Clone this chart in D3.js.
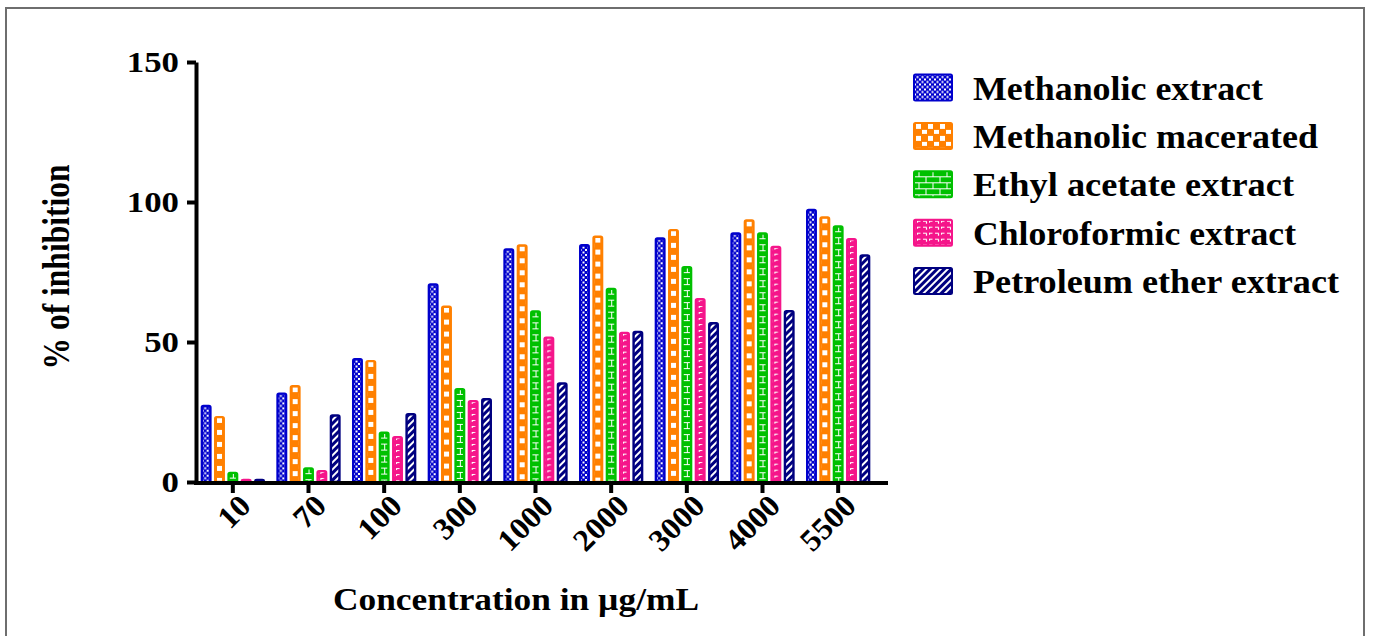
<!DOCTYPE html>
<html>
<head>
<meta charset="utf-8">
<script src="https://cdn.jsdelivr.net/npm/d3@7"></script>
<style>
    body { margin: 0; background: #fff; }
    #chart { width: 1373px; height: 636px; }
    text { font-family: "Liberation Serif", "Times New Roman", serif; font-weight: bold; fill: #000; }
</style>
</head>
<body>
<div id="chart"></div>
<script>
//Datos
const concentraciones = ['10', '70', '100', '300', '1000', '2000', '3000', '4000', '5500'];
const series = ['Methanolic extract', 'Methanolic macerated', 'Ethyl acetate extract', 'Chloroformic extract', 'Petroleum ether extract'];
const methanolicExtract = [27.6, 32.0, 44.3, 71.0, 83.5, 85.0, 87.4, 89.2, 97.6];
const methanolicMacerated = [23.6, 34.6, 43.6, 63.0, 84.9, 88.0, 90.4, 93.8, 94.9];
const ethylAcetate = [3.7, 5.3, 18.0, 33.6, 61.3, 69.4, 77.1, 89.2, 91.7];
const chloroformic = [1.2, 4.3, 16.4, 29.3, 52.0, 53.7, 65.7, 84.4, 87.1];
const petroleumEther = [1.2, 24.2, 24.6, 30.0, 35.6, 54.0, 57.1, 61.4, 81.3];
const yTicks = [0, 50, 100, 150];

//Colores fijos
const COLOR_BLUE = '#0000CC',
COLOR_ORANGE = '#FF8000',
COLOR_GREEN = '#00C000',
COLOR_PINK = '#F5158A',
COLOR_NAVY = '#000080';

let valores = [methanolicExtract, methanolicMacerated, ethylAcetate, chloroformic, petroleumEther];
let data = concentraciones.map(function(c, i) {
    let row = {conc: c};
    series.forEach(function(s, j) { row[s] = valores[j][i]; });
    return row;
});

let svg = d3.select('#chart')
    .append('svg')
    .attr('width', 1373)
    .attr('height', 636);

//Marco gris
svg.append('rect')
    .attr('x', 6).attr('y', 8)
    .attr('width', 1358).attr('height', 640)
    .attr('fill', 'none')
    .attr('stroke', '#6e6e6e')
    .attr('stroke-width', 2);

///Patrones
let defs = svg.append('defs');

function pattern(id, w, h, bg) {
    let p = defs.append('pattern')
        .attr('id', id)
        .attr('patternUnits', 'userSpaceOnUse')
        .attr('width', w).attr('height', h);
    p.append('rect').attr('width', w).attr('height', h).attr('fill', bg);
    return p;
}

//checker fino
let p0 = pattern('p0', 5, 5, COLOR_BLUE).attr('x', 1);
p0.append('rect').attr('x', 0).attr('y', 0).attr('width', 2).attr('height', 2).attr('fill', '#fff');
p0.append('rect').attr('x', 2.5).attr('y', 2.5).attr('width', 2).attr('height', 2).attr('fill', '#fff');

//checker grande
let p1 = pattern('p1', 12, 12, COLOR_ORANGE).attr('x', 3);
p1.append('rect').attr('x', 0).attr('y', 2).attr('width', 5).attr('height', 5).attr('fill', '#fff');
p1.append('rect').attr('x', 6).attr('y', 8).attr('width', 5).attr('height', 5).attr('fill', '#fff');

//ladrillos
let p2 = pattern('p2', 14, 12, COLOR_GREEN).attr('x', 5.5);
p2.append('path')
    .attr('d', 'M0,0.5H14M0,6.5H14M0.5,0.5V6.5M7.5,6.5V12')
    .attr('stroke', '#fff').attr('stroke-width', 1).attr('fill', 'none');

//guiones
let p3 = pattern('p3', 12, 6, COLOR_PINK).attr('x', 4);
p3.append('path')
    .attr('d', 'M0,2.5H3.5M6,2.5H9.5M9.5,2.5V5M0.5,2.5V4')
    .attr('stroke', '#fff').attr('stroke-width', 1.2).attr('fill', 'none');

//diagonales
let p4 = pattern('p4', 5, 5, COLOR_NAVY).attr('patternTransform', 'rotate(45)');
p4.append('rect').attr('x', 0).attr('y', 0).attr('width', 2).attr('height', 5).attr('fill', '#fff');

let colores = [COLOR_BLUE, COLOR_ORANGE, COLOR_GREEN, COLOR_PINK, COLOR_NAVY];
let fills = ['url(#p0)', 'url(#p1)', 'url(#p2)', 'url(#p3)', 'url(#p4)'];

let color = d3.scaleOrdinal().domain(series).range(colores);
let fill = d3.scaleOrdinal().domain(series).range(fills);

///Escalas
let x = d3.scaleBand()
    .domain(concentraciones)
    .range([195, 876])
    .paddingInner(0.15)
    .paddingOuter(0.075);

let xSubgroup = d3.scaleBand()
    .domain(series)
    .range([0, x.bandwidth()])
    .paddingInner(0.18);

let y = d3.scaleLinear()
    .domain([0, 150])
    .range([482, 62]);

///Barras
let bw = xSubgroup.bandwidth();

svg.append('g')
    .selectAll('g')
    .data(data)
    .enter()
    .append('g')
    .attr('transform', function(d) { return 'translate(' + x(d.conc) + ',0)'; })
    .selectAll('g')
    .data(function(d) { return series.map(function(key) { return {key: key, value: d[key]}; }); })
    .enter()
    .append('g')
    .attr('transform', function(d) { return 'translate(' + xSubgroup(d.key) + ',' + y(d.value) + ')'; })
    .append('rect')
    .attr('x', 1.2)
    .attr('y', 1.2)
    .attr('width', bw - 2.4)
    .attr('height', function(d) { return Math.max(y(0) - y(d.value) - 1.2, 0.5); })
    .attr('rx', 1.5)
    .attr('fill', function(d) { return fill(d.key); })
    .attr('stroke', function(d) { return color(d.key); })
    .attr('stroke-width', 2.4);

///Ejes
let yAxis = svg.append('g')
    .attr('transform', 'translate(196,0)')
    .call(d3.axisLeft(y).tickValues(yTicks).tickSize(9).tickSizeOuter(0).tickPadding(8));

yAxis.select('.domain').attr('stroke-width', 4).attr('stroke', '#000');
yAxis.selectAll('.tick line').attr('stroke-width', 4).attr('stroke', '#000');
yAxis.selectAll('.tick text')
    .style('font-size', '30px')
    .attr('textLength', function(d) { return String(d).length * 17.4; })
    .attr('lengthAdjust', 'spacingAndGlyphs');

let xAxis = svg.append('g')
    .attr('transform', 'translate(0,483)')
    .call(d3.axisBottom(x).tickSize(10).tickSizeOuter(0));

xAxis.select('.domain').remove();
xAxis.insert('line', ':first-child')
    .attr('x1', 194).attr('x2', 888)
    .attr('stroke', '#000').attr('stroke-width', 4);
xAxis.selectAll('.tick line').attr('stroke-width', 4).attr('stroke', '#000');
xAxis.selectAll('.tick text')
    .attr('x', 0).attr('y', 0).attr('dy', '0.35em')
    .attr('transform', 'translate(12,17) rotate(-45)')
    .style('text-anchor', 'end')
    .style('font-size', '31px')
    .attr('textLength', function(d) { return d.length * 16; })
    .attr('lengthAdjust', 'spacingAndGlyphs');

//Titulos de ejes
svg.append('text')
    .attr('transform', 'translate(69,267) scale(1.2,1) rotate(-90)')
    .attr('text-anchor', 'middle')
    .style('font-size', '32px')
    .attr('textLength', 205)
    .attr('lengthAdjust', 'spacingAndGlyphs')
    .text('% of inhibition');

svg.append('text')
    .attr('x', 516)
    .attr('y', 610)
    .attr('text-anchor', 'middle')
    .style('font-size', '31px')
    .attr('textLength', 366)
    .attr('lengthAdjust', 'spacingAndGlyphs')
    .text('Concentration in µg/mL');

///Leyenda
let anchos = [290, 345, 321, 323, 366];

let legend = svg.append('g')
    .selectAll('g')
    .data(series)
    .enter()
    .append('g')
    .attr('transform', function(d, i) { return 'translate(913,' + (73.5 + i * 48.4) + ')'; });

legend.append('rect')
    .attr('x', 1).attr('y', 1)
    .attr('width', 38).attr('height', 26)
    .attr('rx', 1.5)
    .attr('fill', function(d) { return fill(d); })
    .attr('stroke', function(d) { return color(d); })
    .attr('stroke-width', 2);

legend.append('text')
    .attr('x', 60)
    .attr('y', 26)
    .style('font-size', '33px')
    .attr('textLength', function(d, i) { return anchos[i]; })
    .attr('lengthAdjust', 'spacingAndGlyphs')
    .text(function(d) { return d; });
</script>
</body>
</html>
